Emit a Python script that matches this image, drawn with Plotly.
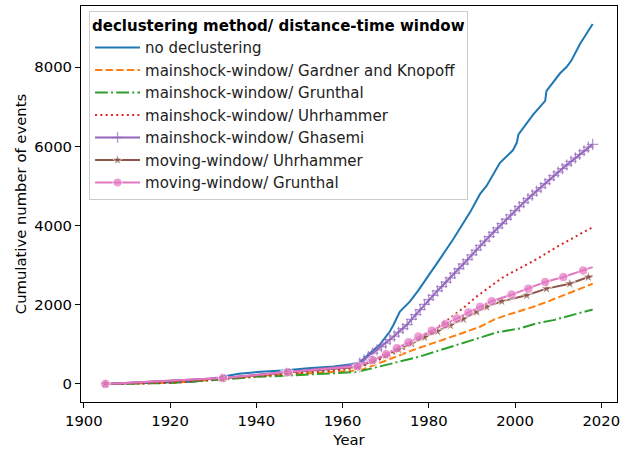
import plotly.graph_objects as go

# ---------------- data ----------------
blue_years = [1905, 1915, 1920, 1925.4, 1932, 1936, 1941, 1947, 1952, 1958, 1962, 1964,
              1966.8, 1968.7, 1971, 1971.8, 1973.3, 1975.6, 1977.5, 1979.5, 1982.6, 1985.7,
              1989.6, 1991.9, 1993.4, 1996.5, 1999.5, 2000.4, 2000.8, 2004.2, 2007, 2007.3,
              2010.4, 2012, 2013.1, 2015.1, 2017, 2018]
blue_vals = [0, 20, 40, 55, 180, 260, 310, 345, 400, 443, 500, 550,
             820, 1000, 1330, 1490, 1830, 2080, 2350, 2660, 3160, 3660,
             4340, 4800, 5000, 5585, 5900, 6090, 6300, 6800, 7150, 7400,
             7840, 8010, 8175, 8590, 8930, 9090]

orange_years = [1905, 1920, 1932, 1940, 1947, 1955, 1962, 1965, 1968, 1971, 1976.4, 1981.1,
                1986.5, 1991.9, 1995, 1998.1, 2004.3, 2008, 2012, 2015, 2018]
orange_vals = [0, 30, 120, 200, 240, 280, 330, 380, 500, 630, 860, 1028,
               1237, 1445, 1620, 1740, 1950, 2100, 2280, 2400, 2530]

green_years = [1905, 1920, 1932, 1940, 1947, 1955, 1963, 1964, 1968, 1971.8, 1978, 1984.2,
               1990.4, 1995.8, 2001.2, 2005, 2008.9, 2013, 2018]
green_vals = [0, 25, 110, 180, 210, 250, 300, 320, 420, 527, 695, 903,
              1111, 1304, 1404, 1530, 1613, 1730, 1880]

red_years = [1905, 1920, 1932, 1947, 1960, 1964, 1967, 1971, 1975, 1978, 1982, 1985, 1988,
             1991, 1994, 1997, 2000, 2005, 2010, 2015, 2018]
red_vals = [0, 30, 130, 260, 360, 420, 540, 720, 930, 1130, 1420, 1660, 1920,
            2200, 2450, 2680, 2860, 3150, 3480, 3780, 3960]

purple_years = [1905, 1932, 1947, 1960] + list(range(1964, 2019))
purple_vals = [0, 150, 300, 440,
               525, 610, 690, 780, 860, 940, 1030, 1120, 1210, 1310, 1400, 1500, 1630, 1750,
               1880, 2010, 2130, 2240, 2350, 2460, 2570, 2680, 2800, 2910, 3030, 3140, 3260,
               3380, 3500, 3610, 3720, 3830, 3940, 4050, 4160, 4270, 4380, 4480, 4580, 4680,
               4770, 4870, 4960, 5060, 5160, 5260, 5350, 5440, 5530, 5620, 5710, 5800, 5890,
               5980, 6050]

brown_years = [1905, 1932, 1947, 1963.5, 1967, 1970, 1973, 1976, 1979, 1982, 1985, 1988,
               1991.1, 1993.4, 1996.9, 2002.7, 2007.3, 2012.7, 2017, 2018]
brown_vals = [0, 140, 290, 430, 580, 720, 870, 1020, 1180, 1330, 1480, 1640,
              1823, 1948, 2090, 2240, 2408, 2533, 2700, 2720]

pink_years = [1905, 1932.3, 1947.3, 1963.5, 1967, 1970.1, 1972.6, 1975.3, 1977.6, 1980.7,
              1983.8, 1986.5, 1989.2, 1991.9, 1994.6, 1999.2, 2003.1, 2007, 2011.2, 2015.8, 2018]
pink_vals = [0, 150, 300, 445, 605, 752, 903, 1053, 1196, 1347,
             1512, 1655, 1806, 1948, 2090, 2257, 2408, 2575, 2700, 2866, 2950]

names = ["no declustering",
         "mainshock-window/ Gardner and Knopoff",
         "mainshock-window/ Grunthal",
         "mainshock-window/ Uhrhammer",
         "mainshock-window/ Ghasemi",
         "moving-window/ Uhrhammer",
         "moving-window/ Grunthal"]

x_ticks = [1900, 1920, 1940, 1960, 1980, 2000, 2020]
y_ticks = [0, 2000, 4000, 6000, 8000]

# ---------------- figure ----------------
FONT = "DejaVu Sans"
FS = 14.8
fig = go.Figure()

fig.add_trace(go.Scatter(x=blue_years, y=blue_vals, mode="lines", name=names[0],
                         line=dict(color="#1f77b4", width=2)))
fig.add_trace(go.Scatter(x=orange_years, y=orange_vals, mode="lines", name=names[1],
                         line=dict(color="#ff7f0e", width=2, dash="7.4px,3.2px")))
fig.add_trace(go.Scatter(x=green_years, y=green_vals, mode="lines", name=names[2],
                         line=dict(color="#2ca02c", width=2, dash="12.8px,3.2px,2px,3.2px")))
fig.add_trace(go.Scatter(x=red_years, y=red_vals, mode="lines", name=names[3],
                         line=dict(color="#d62728", width=2, dash="2px,3.3px")))
purple_sizes = [0 if yr < 1964 else 8 for yr in purple_years]
fig.add_trace(go.Scatter(x=purple_years, y=purple_vals, mode="lines+markers", name=names[4],
                         line=dict(color="#9467bd", width=2),
                         marker=dict(symbol="cross-thin", size=purple_sizes, color="#9467bd",
                                     line=dict(color="#9467bd", width=1.3))))
fig.add_trace(go.Scatter(x=brown_years, y=brown_vals, mode="lines+markers", name=names[5],
                         line=dict(color="#8c564b", width=2),
                         marker=dict(symbol="star",
                                     size=[9] * (len(brown_years) - 1) + [0],
                                     color="#8c564b")))
fig.add_trace(go.Scatter(x=pink_years, y=pink_vals, mode="lines+markers", name=names[6],
                         line=dict(color="#e377c2", width=2),
                         marker=dict(symbol="circle",
                                     size=[9.5] * (len(pink_years) - 1) + [0],
                                     color="#e377c2")))

axis_common = dict(showline=True, linecolor="black", linewidth=1, mirror=True,
                   ticks="outside", ticklen=5, tickwidth=1, tickcolor="black",
                   showgrid=False, zeroline=False,
                   tickfont=dict(family=FONT, size=FS, color="black"))

fig.update_layout(
    width=626, height=450,
    margin=dict(l=81, r=9, t=5, b=46),
    paper_bgcolor="white", plot_bgcolor="white",
    font=dict(family=FONT, size=FS, color="black"),
    xaxis=dict(range=[1899.35, 2023.65], tickvals=x_ticks,
               title=dict(text="Year", font=dict(family=FONT, size=FS), standoff=6),
               **axis_common),
    yaxis=dict(range=[-455, 9545], tickvals=y_ticks,
               title=dict(text="Cumulative number of events", font=dict(family=FONT, size=FS),
                          standoff=4),
               **axis_common),
    legend=dict(x=0.015, y=0.988, xanchor="left", yanchor="top",
                bgcolor="rgba(255,255,255,0.8)", bordercolor="#cccccc", borderwidth=1,
                font=dict(family=FONT, size=15, color="#222222"),
                title=dict(text="<b>declustering method/ distance-time window</b>",
                           font=dict(family=FONT, size=15, color="black"), side="top"),
                itemwidth=45, tracegroupgap=0),
    showlegend=True,
)

fig.write_html("out.html")
